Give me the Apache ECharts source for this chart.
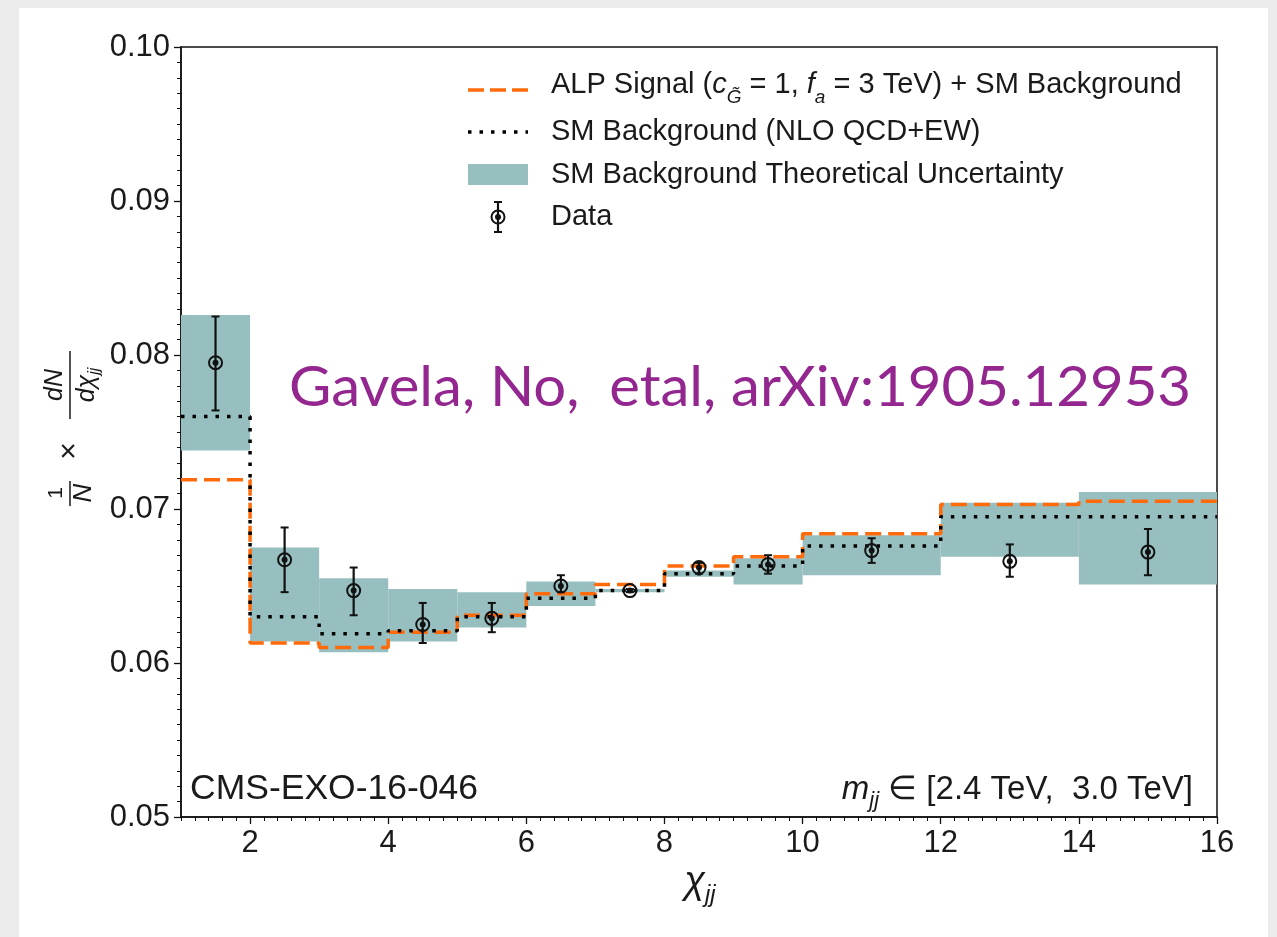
<!DOCTYPE html>
<html>
<head>
<meta charset="utf-8">
<title>Dijet angular distribution</title>
<script src="https://cdn.jsdelivr.net/npm/echarts@6/dist/echarts.min.js"></script>
<style>
  html, body { margin: 0; padding: 0; background: #ebebeb; }
  #chart { width: 1277px; height: 937px; }
</style>
</head>
<body>
<div id="chart"></div>
<script>
// Bin edges in chi_jj and the per-bin values of the normalised distribution
const binEdges = [1, 2, 3, 4, 5, 6, 7, 8, 9, 10, 12, 14, 16];
const binCenters = [1.5, 2.5, 3.5, 4.5, 5.5, 6.5, 7.5, 8.5, 9.5, 11, 13, 15];

// ALP signal (c_G = 1, f_a = 3 TeV) + SM background
const alpSignal = [0.0719, 0.0613, 0.0610, 0.0620, 0.0631, 0.0645, 0.0651, 0.0663, 0.0669, 0.0684, 0.0703, 0.0705];
// SM background (NLO QCD+EW)
const smBackground = [0.0760, 0.0630, 0.0619, 0.0621, 0.0630, 0.0642, 0.0647, 0.0658, 0.0663, 0.0676, 0.0695, 0.0695];
// SM theoretical uncertainty band
const smUncLow  = [0.0738, 0.0614, 0.0607, 0.0614, 0.0623, 0.0637, 0.0646, 0.0656, 0.0651, 0.0657, 0.0669, 0.0651];
const smUncHigh = [0.0826, 0.0675, 0.0655, 0.0648, 0.0646, 0.0653, 0.0648, 0.0660, 0.0668, 0.0683, 0.0704, 0.0711];
// CMS data with error bars
const dataY       = [0.0795, 0.0667, 0.0647, 0.0625, 0.0629, 0.0650, 0.0647, 0.0662, 0.0664, 0.0673, 0.0666, 0.0672];
const dataErrLow  = [0.0764, 0.0646, 0.0631, 0.0613, 0.0620, 0.0646, 0.0646, 0.0658, 0.0658, 0.0665, 0.0656, 0.0657];
const dataErrHigh = [0.0825, 0.0688, 0.0662, 0.0639, 0.0639, 0.0657, 0.0648, 0.0665, 0.0670, 0.0681, 0.0677, 0.0687];

// Axis ticks
const xMajorTicks = [2, 4, 6, 8, 10, 12, 14, 16];
const yMin = 0.05, yMax = 0.10, yStep = 0.01;

const BAND_COLOR = '#97bfbf';
const ALP_COLOR = '#ff6a0a';
const INK = '#1a1a1a';
const FONT = 'Liberation Sans, Arial, sans-serif';

// step-line points: one point per lower bin edge, plus the final upper edge
function stepPoints(values) {
  const pts = values.map((v, i) => [binEdges[i], v]);
  pts.push([binEdges[binEdges.length - 1], values[values.length - 1]]);
  return pts;
}

const bandRows = smUncLow.map((lo, i) => [binEdges[i], binEdges[i + 1], lo, smUncHigh[i]]);
const dataRows = dataY.map((y, i) => [binCenters[i], y, dataErrLow[i], dataErrHigh[i]]);

function dataMarker(cx, cy, top, bottom) {
  return [
    { type: 'line', shape: { x1: cx, y1: top, x2: cx, y2: bottom }, style: { stroke: '#111', lineWidth: 2.2 } },
    { type: 'line', shape: { x1: cx - 4, y1: top, x2: cx + 4, y2: top }, style: { stroke: '#111', lineWidth: 2 } },
    { type: 'line', shape: { x1: cx - 4, y1: bottom, x2: cx + 4, y2: bottom }, style: { stroke: '#111', lineWidth: 2 } },
    { type: 'circle', shape: { cx: cx, cy: cy, r: 6.5 }, style: { fill: 'rgba(0,0,0,0)', stroke: '#111', lineWidth: 2 } },
    { type: 'circle', shape: { cx: cx, cy: cy, r: 3 }, style: { fill: '#111' } }
  ];
}

// width scaling for the reference annotation so it spans its box
const noteText = 'Gavela, No,  etal, arXiv:1905.12953';
const noteFont = '56px Lato';
const measureCtx = document.createElement('canvas').getContext('2d');
measureCtx.font = noteFont;
const noteScale = 902 / measureCtx.measureText(noteText).width;

const chart = echarts.init(document.getElementById('chart'), null, { renderer: 'canvas' });

const legendX = 468, legendTextX = 551;

chart.setOption({
  backgroundColor: '#ebebeb',
  animation: false,
  grid: {
    left: 181, right: 60, top: 47, bottom: 120,
    show: true, backgroundColor: '#ffffff', borderColor: '#111', borderWidth: 1.5
  },
  xAxis: [
    {
      type: 'value', min: 1, max: 16, position: 'bottom',
      axisLine: { show: true, onZero: false, lineStyle: { color: '#111', width: 1.5 } },
      axisTick: { show: true, length: 7, customValues: xMajorTicks, lineStyle: { color: '#111', width: 1.3 } },
      axisLabel: { show: true, customValues: xMajorTicks, fontSize: 31, color: INK, fontFamily: FONT, margin: 11 },
      splitLine: { show: false }
    },
    {
      // minor ticks every 0.2
      type: 'value', min: 1, max: 16, interval: 0.2, position: 'bottom',
      axisLine: { show: false, onZero: false },
      axisTick: { show: true, length: 4, lineStyle: { color: '#111', width: 1 } },
      axisLabel: { show: false },
      splitLine: { show: false }
    }
  ],
  yAxis: {
    type: 'value', min: yMin, max: yMax, interval: yStep,
    axisLine: { show: true, onZero: false, lineStyle: { color: '#111', width: 1.5 } },
    axisTick: { show: true, length: 7, lineStyle: { color: '#111', width: 1.3 } },
    minorTick: { show: true, splitNumber: 10, length: 4, lineStyle: { color: '#111', width: 1 } },
    axisLabel: { fontSize: 31, color: INK, fontFamily: FONT, margin: 11, formatter: v => v.toFixed(2) },
    splitLine: { show: false }
  },
  series: [
    {
      name: 'SM Background Theoretical Uncertainty',
      type: 'custom', clip: true, z: 1,
      data: bandRows,
      encode: { x: [0, 1], y: [2, 3] },
      renderItem(params, api) {
        const p0 = api.coord([api.value(0), api.value(3)]);
        const p1 = api.coord([api.value(1), api.value(2)]);
        return { type: 'rect', shape: { x: p0[0], y: p0[1], width: p1[0] - p0[0], height: p1[1] - p0[1] }, style: { fill: BAND_COLOR } };
      }
    },
    {
      name: 'ALP Signal + SM Background',
      type: 'line', step: 'end', z: 3, showSymbol: false, symbol: 'none',
      data: stepPoints(alpSignal),
      lineStyle: { color: ALP_COLOR, width: 3.5, type: [16, 7], cap: 'butt' }
    },
    {
      name: 'SM Background (NLO QCD+EW)',
      type: 'line', step: 'end', z: 4, showSymbol: false, symbol: 'none',
      data: stepPoints(smBackground),
      lineStyle: { color: '#000', width: 3.5, type: [3.5, 8], cap: 'butt' }
    },
    {
      name: 'Data',
      type: 'custom', z: 5,
      data: dataRows,
      encode: { x: 0, y: [1, 2, 3] },
      renderItem(params, api) {
        const c = api.coord([api.value(0), api.value(1)]);
        const lo = api.coord([api.value(0), api.value(2)]);
        const hi = api.coord([api.value(0), api.value(3)]);
        return { type: 'group', children: dataMarker(c[0], c[1], hi[1], lo[1]) };
      }
    }
  ],
  graphic: [
    // white figure panel
    { type: 'rect', z: -100, silent: true, shape: { x: 19, y: 8, width: 1249, height: 929 }, style: { fill: '#ffffff' } },

    // legend
    { type: 'line', z: 10, shape: { x1: legendX, y1: 90, x2: legendX + 60, y2: 90 }, style: { stroke: ALP_COLOR, lineWidth: 3.5, lineDash: [16, 6] } },
    {
      type: 'text', z: 10, x: legendTextX, y: 85,
      style: {
        text: '{n|ALP Signal (}{i|c}{s|G̃}{n| = 1, }{i|f}{s|a}{n| = 3 TeV) + SM Background}',
        verticalAlign: 'middle', align: 'left',
        rich: {
          n: { fontSize: 29, fontFamily: FONT, fill: INK, lineHeight: 44, verticalAlign: 'middle' },
          i: { fontSize: 29, fontFamily: FONT, fontStyle: 'italic', fill: INK, lineHeight: 44, verticalAlign: 'middle' },
          s: { fontSize: 19, fontFamily: FONT, fontStyle: 'italic', fill: INK, lineHeight: 44, verticalAlign: 'bottom' }
        }
      }
    },
    { type: 'line', z: 10, shape: { x1: legendX, y1: 132, x2: legendX + 60, y2: 132 }, style: { stroke: '#000', lineWidth: 3.5, lineDash: [3.5, 8] } },
    { type: 'text', z: 10, x: legendTextX, y: 132, style: { text: 'SM Background (NLO QCD+EW)', font: '29px ' + FONT, fill: INK, verticalAlign: 'middle' } },
    { type: 'rect', z: 10, shape: { x: legendX, y: 164, width: 60, height: 21 }, style: { fill: BAND_COLOR } },
    { type: 'text', z: 10, x: legendTextX, y: 175, style: { text: 'SM Background Theoretical Uncertainty', font: '29px ' + FONT, fill: INK, verticalAlign: 'middle' } },
    { type: 'group', z: 10, children: dataMarker(498, 217, 202, 232) },
    { type: 'text', z: 10, x: legendTextX, y: 217, style: { text: 'Data', font: '29px ' + FONT, fill: INK, verticalAlign: 'middle' } },

    // reference annotation
    {
      type: 'text', z: 10, x: 289, y: 388, scaleX: noteScale, originX: 0,
      style: { text: noteText, font: noteFont, fill: '#93278f', verticalAlign: 'middle', align: 'left' }
    },

    // corner annotations
    { type: 'text', z: 10, x: 190, y: 789, style: { text: 'CMS-EXO-16-046', font: '35.5px ' + FONT, fill: INK, verticalAlign: 'middle' } },
    {
      type: 'text', z: 10, x: 1193, y: 790,
      style: {
        text: '{i|m}{s|jj}{n| ∈ [2.4 TeV,  3.0 TeV]}',
        align: 'right', verticalAlign: 'middle',
        rich: {
          n: { fontSize: 33, fontFamily: FONT, fill: INK, lineHeight: 44, verticalAlign: 'middle' },
          i: { fontSize: 33, fontFamily: FONT, fontStyle: 'italic', fill: INK, lineHeight: 44, verticalAlign: 'middle' },
          s: { fontSize: 22, fontFamily: FONT, fontStyle: 'italic', fill: INK, lineHeight: 44, verticalAlign: 'bottom' }
        }
      }
    },

    // x-axis title
    {
      type: 'text', z: 10, x: 700, y: 882,
      style: {
        text: '{i|χ}{s|jj}', align: 'center', verticalAlign: 'middle',
        rich: {
          i: { fontSize: 38, fontFamily: FONT, fontStyle: 'italic', fill: INK, lineHeight: 50, verticalAlign: 'middle' },
          s: { fontSize: 24, fontFamily: FONT, fontStyle: 'italic', fill: INK, lineHeight: 50, verticalAlign: 'bottom' }
        }
      }
    },

    // y-axis title: 1/N x dN/dchi_jj, rotated to read upwards
    {
      type: 'group', z: 10, x: 70, y: 433, rotation: Math.PI / 2,
      children: [
        { type: 'line', shape: { x1: -73, y1: 0, x2: -48, y2: 0 }, style: { stroke: INK, lineWidth: 1.5 } },
        { type: 'text', x: -60, y: -14, style: { text: '1', font: '21px ' + FONT, fill: INK, align: 'center', verticalAlign: 'middle' } },
        { type: 'text', x: -60, y: 14, style: { text: 'N', font: 'italic 26px ' + FONT, fill: INK, align: 'center', verticalAlign: 'middle' } },
        { type: 'text', x: -18, y: 0, style: { text: '×', font: '30px ' + FONT, fill: INK, align: 'center', verticalAlign: 'middle' } },
        { type: 'line', shape: { x1: 14, y1: 0, x2: 82, y2: 0 }, style: { stroke: INK, lineWidth: 1.5 } },
        { type: 'text', x: 48, y: -15, style: { text: 'dN', font: 'italic 25px ' + FONT, fill: INK, align: 'center', verticalAlign: 'middle' } },
        {
          type: 'text', x: 48, y: 17,
          style: {
            text: '{i|dχ}{s|jj}', align: 'center', verticalAlign: 'middle',
            rich: {
              i: { fontSize: 25, fontFamily: FONT, fontStyle: 'italic', fill: INK, lineHeight: 32, verticalAlign: 'middle' },
              s: { fontSize: 16, fontFamily: FONT, fontStyle: 'italic', fill: INK, lineHeight: 32, verticalAlign: 'bottom' }
            }
          }
        }
      ]
    }
  ]
});
</script>
</body>
</html>
